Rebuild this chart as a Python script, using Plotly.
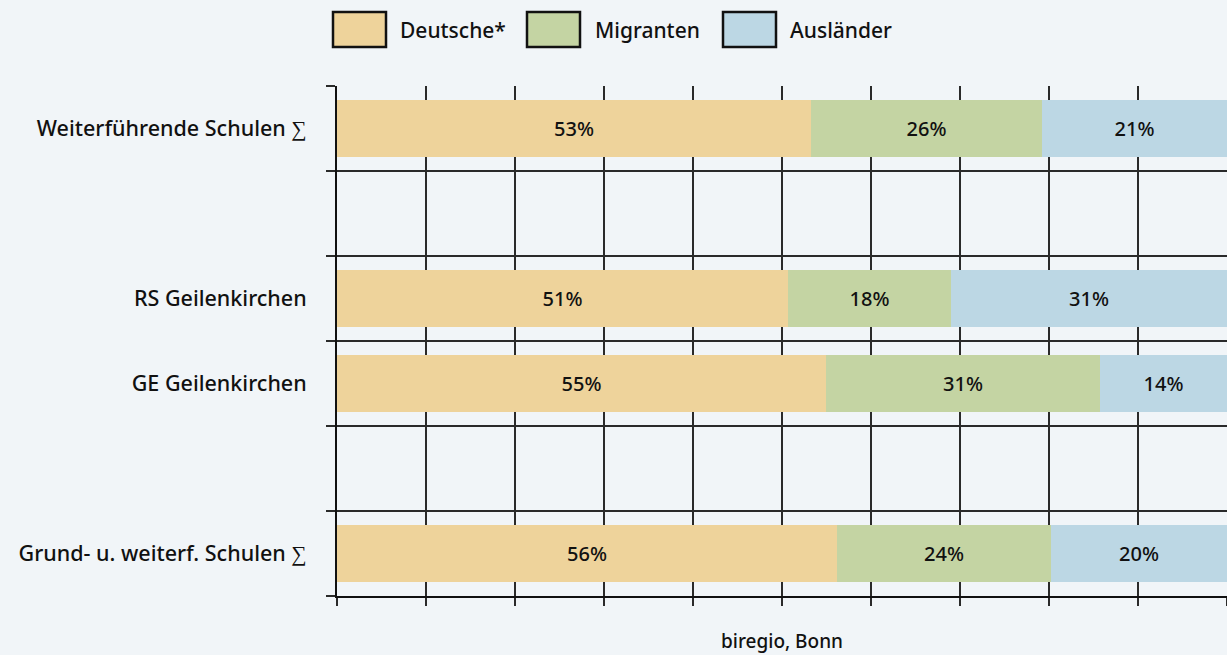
import plotly.graph_objects as go

categories = ["Weiterführende Schulen ∑", "RS Geilenkirchen", "GE Geilenkirchen", "Grund- u. weiterf. Schulen ∑"]
slots = [5, 3, 2, 0]
series_names = ["Deutsche*", "Migranten", "Ausländer"]
deutsche = [53.3, 50.7, 54.9, 56.2]
migranten = [25.9, 18.3, 30.8, 24.0]
auslaender = [20.8, 31.0, 14.3, 19.8]
colors = ["#eed39b", "#c4d4a3", "#bcd7e4"]

W, H = 1227, 655
L, R, T, B = 337, 0, 86, 59
FONT = "Noto Sans"


def px_x(x):
    return (x - L) / (W - L - R)


def px_y(y):
    return (H - B - y) / (H - T - B)


fig = go.Figure()
for name, vals, col in zip(series_names, [deutsche, migranten, auslaender], colors):
    fig.add_trace(go.Bar(
        y=slots, x=vals, name=name, orientation="h", marker=dict(color=col, line=dict(width=0)),
        width=0.66, texttemplate="%{x:.0f}%", textposition="inside", insidetextanchor="middle",
        textfont=dict(color="#111", size=20, family=FONT, weight=500), showlegend=False,
    ))

# legend drawn by hand (large boxes with black border)
legend_items = [(333, 386, 400), (527, 580, 595), (723, 776, 790)]
for (x0, x1, tx), name, col in zip(legend_items, series_names, colors):
    fig.add_shape(type="rect", xref="paper", yref="paper",
                  x0=px_x(x0), x1=px_x(x1), y0=px_y(47), y1=px_y(12),
                  fillcolor=col, line=dict(color="#111", width=2.5))
    fig.add_annotation(xref="paper", yref="paper", x=px_x(tx - 2), y=px_y(30), text=name,
                       showarrow=False, xanchor="left", yanchor="middle",
                       font=dict(size=21, color="#111", family=FONT, weight=500))

fig.add_annotation(xref="paper", yref="paper", x=px_x(782), y=px_y(641), text="biregio, Bonn",
                   showarrow=False, xanchor="center", yanchor="middle",
                   font=dict(size=19, color="#111", family=FONT, weight=500))

grid = "#2a2a2a"
fig.update_layout(
    width=W, height=H, barmode="stack",
    margin=dict(l=L, r=R, t=T, b=B),
    paper_bgcolor="#f1f5f8", plot_bgcolor="#f1f5f8",
    font=dict(family=FONT, size=20, color="#111"),
    bargap=0,
)
fig.update_xaxes(
    range=[0, 100], dtick=10, showgrid=True, gridcolor=grid, gridwidth=1.5,
    showticklabels=False, ticks="outside", ticklen=8, tickcolor=grid, tickwidth=1.5,
    showline=True, linecolor="#111", linewidth=2, zeroline=False,
)
fig.update_yaxes(
    range=[-0.5, 5.5], tickvals=slots, ticktext=categories, showgrid=False,
    ticks="outside", ticklen=24, tickcolor="rgba(0,0,0,0)",
    tickfont=dict(size=21.5, family=FONT, color="#111", weight=500),
    showline=True, linecolor="#111", linewidth=2, zeroline=False,
    minor=dict(tickvals=[-0.5, 0.5, 1.5, 2.5, 3.5, 4.5, 5.5], showgrid=True, gridcolor=grid,
               gridwidth=1.5, ticks="outside", ticklen=9, tickcolor=grid, tickwidth=1.5),
)

fig.write_html("out.html", config={"displayModeBar": False},
               post_script="document.body.style.margin='0';")
